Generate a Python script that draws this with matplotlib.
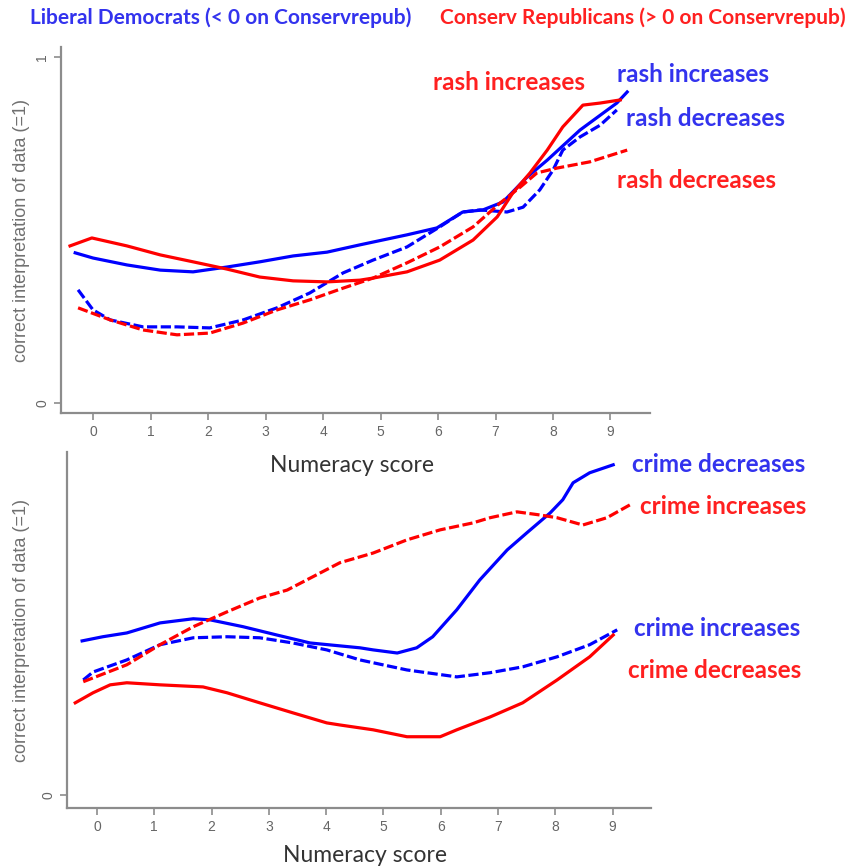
import matplotlib
matplotlib.use("Agg")
import matplotlib.pyplot as plt

# ---- data (numeracy score vs. share correct) ----
# top panel: skin rash version
rash_lib_inc_x = [-0.31, 0.0, 0.59, 1.17, 1.74, 2.33, 2.90, 3.48, 4.07, 4.64, 5.46, 5.98, 6.43, 6.78, 7.13, 7.55, 7.90, 8.47, 9.11, 9.29]
rash_lib_inc_y = [0.434, 0.419, 0.399, 0.384, 0.379, 0.393, 0.408, 0.425, 0.436, 0.457, 0.486, 0.506, 0.552, 0.558, 0.581, 0.653, 0.702, 0.789, 0.867, 0.899]

rash_lib_dec_x = [-0.26, 0.0, 0.30, 0.87, 1.46, 2.03, 2.61, 3.20, 3.77, 4.35, 4.87, 5.46, 6.03, 6.43, 6.73, 7.20, 7.48, 7.77, 8.00, 8.17, 8.47, 8.82, 9.11]
rash_lib_dec_y = [0.327, 0.269, 0.240, 0.220, 0.220, 0.217, 0.240, 0.275, 0.318, 0.376, 0.413, 0.451, 0.509, 0.552, 0.558, 0.552, 0.566, 0.616, 0.673, 0.731, 0.769, 0.803, 0.847]

rash_con_inc_x = [-0.40, -0.02, 0.59, 1.17, 1.74, 2.33, 2.90, 3.48, 4.07, 4.64, 4.87, 5.46, 6.03, 6.61, 7.03, 7.30, 7.60, 7.90, 8.17, 8.52, 8.82, 9.17]
rash_con_inc_y = [0.454, 0.477, 0.454, 0.428, 0.408, 0.387, 0.364, 0.353, 0.350, 0.355, 0.361, 0.379, 0.413, 0.471, 0.538, 0.607, 0.665, 0.731, 0.798, 0.861, 0.867, 0.876]

rash_con_dec_x = [-0.26, 0.30, 0.87, 1.46, 2.03, 2.61, 3.20, 3.77, 4.35, 4.87, 5.46, 6.03, 6.61, 7.08, 7.43, 7.72, 8.07, 8.64, 9.29]
rash_con_dec_y = [0.275, 0.240, 0.211, 0.197, 0.202, 0.231, 0.269, 0.298, 0.332, 0.361, 0.405, 0.451, 0.509, 0.578, 0.624, 0.665, 0.679, 0.697, 0.731]

# bottom panel: gun control / crime version
crime_lib_dec_x = [-0.26, 0.10, 0.52, 1.10, 1.68, 1.97, 2.55, 3.14, 3.72, 4.59, 4.82, 5.24, 5.58, 5.86, 6.28, 6.68, 7.16, 7.50, 7.91, 8.13, 8.31, 8.60, 9.01]
crime_lib_dec_y = [0.445, 0.457, 0.468, 0.497, 0.509, 0.506, 0.486, 0.462, 0.439, 0.425, 0.419, 0.410, 0.425, 0.457, 0.535, 0.621, 0.708, 0.757, 0.815, 0.853, 0.902, 0.931, 0.954]

crime_lib_inc_x = [-0.24, -0.07, 0.52, 1.10, 1.68, 2.27, 2.84, 3.42, 4.01, 4.59, 5.41, 6.28, 6.86, 7.43, 8.03, 8.60, 9.08]
crime_lib_inc_y = [0.332, 0.355, 0.390, 0.434, 0.454, 0.457, 0.454, 0.439, 0.419, 0.390, 0.361, 0.341, 0.353, 0.370, 0.399, 0.434, 0.477]

crime_con_inc_x = [-0.24, 0.52, 1.10, 1.68, 2.27, 2.84, 3.32, 4.24, 4.82, 5.41, 5.99, 6.56, 6.86, 7.33, 7.73, 8.03, 8.48, 8.90, 9.30]
crime_con_inc_y = [0.327, 0.376, 0.434, 0.486, 0.529, 0.569, 0.592, 0.671, 0.699, 0.737, 0.766, 0.786, 0.801, 0.818, 0.809, 0.801, 0.780, 0.801, 0.838]

crime_con_dec_x = [-0.38, -0.07, 0.23, 0.52, 1.10, 1.85, 2.27, 2.84, 3.42, 4.01, 4.24, 4.82, 5.41, 5.99, 6.28, 6.86, 7.43, 8.03, 8.60, 9.01]
crime_con_dec_y = [0.266, 0.295, 0.318, 0.324, 0.318, 0.312, 0.295, 0.266, 0.237, 0.208, 0.202, 0.188, 0.168, 0.168, 0.188, 0.225, 0.266, 0.332, 0.399, 0.462]

xticks = list(range(10))

BLUE = "#0000ff"
RED = "#ff0000"
BLUE_TXT = "#3333ee"
RED_TXT = "#ff2020"
GRAY = "#8c8c8c"
dash = (0, (3.2, 1.1))

W, H = 858, 867
fig = plt.figure(figsize=(W / 100, H / 100), dpi=100)


def px(x, y):
    return x / W, 1 - y / H


def style_axes(ax, label_x):
    for s in ["top", "right"]:
        ax.spines[s].set_visible(False)
    for s in ["left", "bottom"]:
        ax.spines[s].set_color(GRAY)
        ax.spines[s].set_linewidth(1.6)
    ax.tick_params(colors=GRAY, labelcolor="#666666", width=1.2, length=5,
                   labelsize=10, direction="out")
    ax.set_xticks(xticks)
    for lab in ax.get_xticklabels():
        lab.set_fontfamily("Liberation Sans")
    ax.set_ylabel("correct interpretation of data (=1)", color="#707070",
                  fontsize=13, family="Liberation Sans")
    ax.yaxis.set_label_coords(label_x, 0.5)


# top panel
ax1 = fig.add_axes([61 / W, 1 - 413 / H, (650 - 61) / W, (413 - 47) / H])
ax1.plot(rash_lib_inc_x, rash_lib_inc_y, color=BLUE, lw=2.3)
ax1.plot(rash_lib_dec_x, rash_lib_dec_y, color=BLUE, lw=2.3, ls=dash)
ax1.plot(rash_con_inc_x, rash_con_inc_y, color=RED, lw=2.3)
ax1.plot(rash_con_dec_x, rash_con_dec_y, color=RED, lw=2.3, ls=dash)
ax1.set_xlim(-0.557, 9.687)
ax1.set_ylim(-0.029, 1.029)
ax1.set_yticks([0, 1])
ax1.set_yticklabels(["0", "1"], rotation=90, va="center", family="Liberation Sans")
style_axes(ax1, -31 / 589)

# bottom panel
ax2 = fig.add_axes([67 / W, 1 - 808 / H, (651 - 67) / W, (808 - 452) / H])
ax2.plot(crime_lib_dec_x, crime_lib_dec_y, color=BLUE, lw=2.3)
ax2.plot(crime_lib_inc_x, crime_lib_inc_y, color=BLUE, lw=2.3, ls=dash)
ax2.plot(crime_con_dec_x, crime_con_dec_y, color=RED, lw=2.3)
ax2.plot(crime_con_inc_x, crime_con_inc_y, color=RED, lw=2.3, ls=dash)
ax2.set_xlim(-0.524, 9.67)
ax2.set_ylim(-0.038, 0.991)
ax2.set_yticks([0])
ax2.set_yticklabels(["0"], rotation=90, va="center", family="Liberation Sans")
style_axes(ax2, -37 / 584)

# axis titles
fig.text(*px(352, 465), "Numeracy score", ha="center", va="center",
         fontsize=16.5, family="Lato", color="#333333")
fig.text(*px(365, 855), "Numeracy score", ha="center", va="center",
         fontsize=16.5, family="Lato", color="#333333")

# headers
fig.text(*px(30, 18), "Liberal Democrats (< 0 on Conservrepub)", ha="left",
         va="center", fontsize=15, family="Lato", weight="bold", color=BLUE_TXT)
fig.text(*px(440, 18), "Conserv Republicans (> 0 on Conservrepub)", ha="left",
         va="center", fontsize=15, family="Lato", weight="bold", color=RED_TXT)

# curve labels
labels = [
    (433, 83, "rash increases", RED_TXT),
    (617, 75, "rash increases", BLUE_TXT),
    (626, 118, "rash decreases", BLUE_TXT),
    (617, 180, "rash decreases", RED_TXT),
    (632, 465, "crime decreases", BLUE_TXT),
    (640, 507, "crime increases", RED_TXT),
    (634, 628, "crime increases", BLUE_TXT),
    (628, 670, "crime decreases", RED_TXT),
]
for x, y, s, c in labels:
    fig.text(*px(x, y), s, ha="left", va="center", fontsize=17.5,
             family="Lato", weight="bold", color=c)

fig.savefig("out.png", dpi=100)
